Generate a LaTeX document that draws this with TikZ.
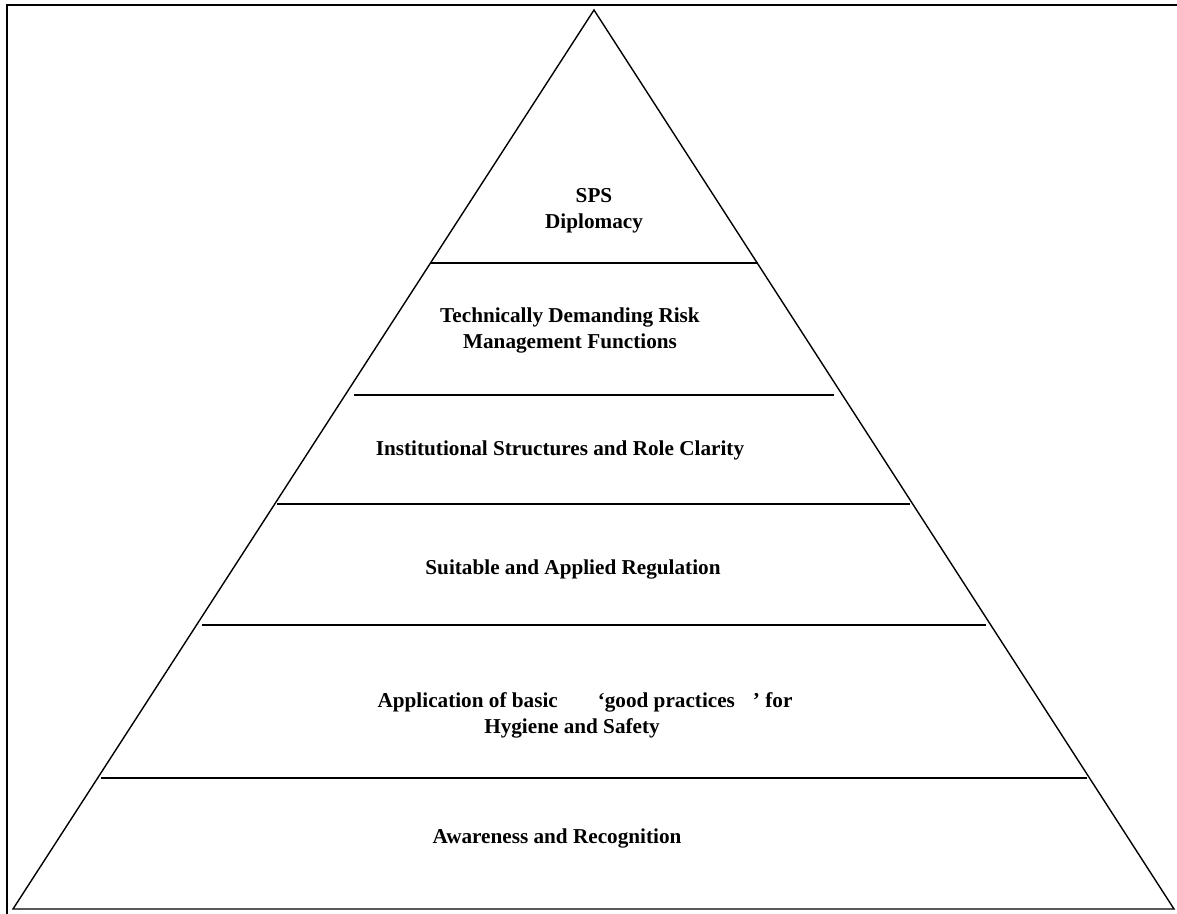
\documentclass[tikz,border=0pt]{standalone}
\usepackage{fontspec}
\setmainfont{Liberation Serif}
\begin{document}
\begin{tikzpicture}[x=0.5pt,y=-0.5pt,
	level/.style={font=\bfseries\fontsize{10.6}{13}\selectfont,align=center,inner sep=0pt}]
	\useasboundingbox (0,0) rectangle (1177,914);
	% frame
	\draw[line width=1pt] (7,930) -- (7,5) -- (1190,5);
	% pyramid
	\coordinate (top) at (594,10);
	\coordinate (bl) at (13,909);
	\coordinate (br) at (1174,909);
	\draw[line width=0.7pt] (bl) -- (top) -- (br) -- cycle;
	\draw[line width=0.8pt] (431,263) -- (758,263);
	\draw[line width=0.8pt] (354,395) -- (834,395);
	\draw[line width=0.8pt] (277,504) -- (910,504);
	\draw[line width=0.8pt] (202,625) -- (986,625);
	\draw[line width=0.8pt] (101,778) -- (1087,778);
	% levels, top to bottom
	\node[level] (sps)  at (594,211) {SPS\\Diplomacy};
	\node[level] (risk) at (570,330) {Technically Demanding Risk\\Management Functions};
	\node[level] (inst) at (560,450) {Institutional Structures and Role Clarity};
	\node[level] (reg)  at (573,569) {Suitable and Applied Regulation};
	\node[level] (gap)  at (585,715) {Application of basic\hspace{20pt}‘good practices\hspace{9pt}’ for\\Hygiene and Safety\hspace*{13pt}};
	\node[level] (aware) at (557,838) {Awareness and Recognition};
\end{tikzpicture}
\end{document}
